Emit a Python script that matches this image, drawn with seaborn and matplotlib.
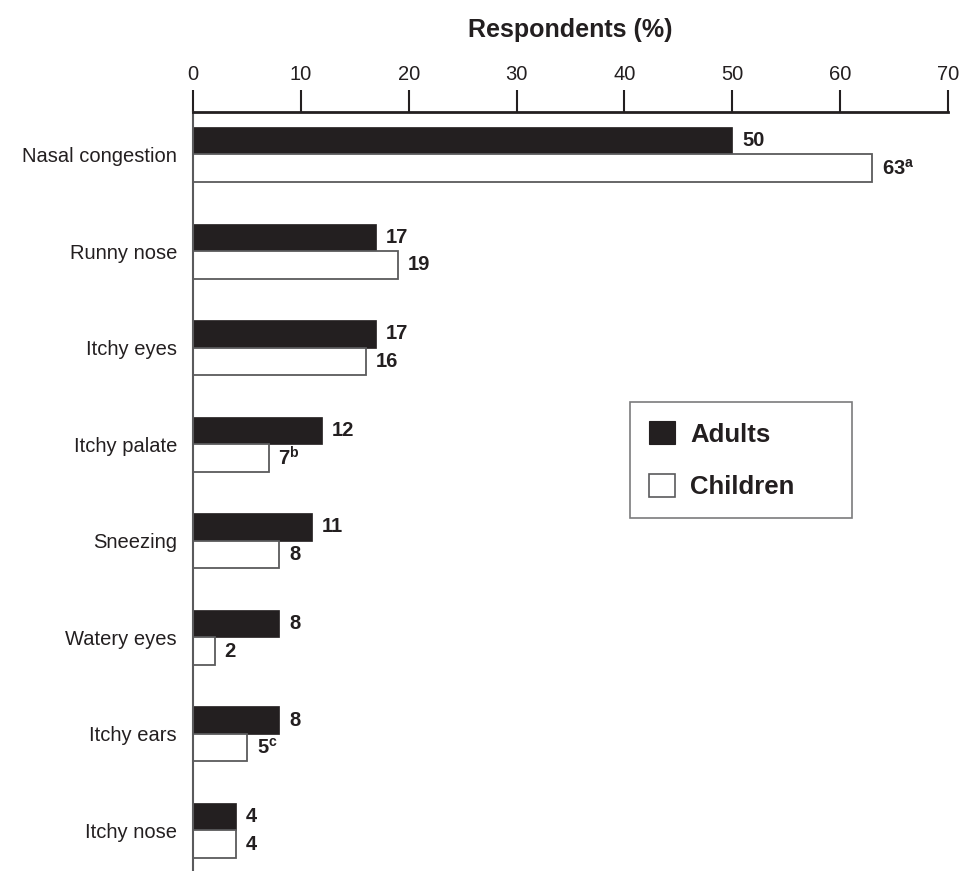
import matplotlib
matplotlib.use("Agg")
import matplotlib.pyplot as plt
from matplotlib.patches import Patch
import seaborn as sns
import pandas as pd

categories = ["Nasal congestion", "Runny nose", "Itchy eyes", "Itchy palate",
              "Sneezing", "Watery eyes", "Itchy ears", "Itchy nose"]
adults = [50, 17, 17, 12, 11, 8, 8, 4]
children = [63, 19, 16, 7, 8, 2, 5, 4]
children_notes = ["a", "", "", "b", "", "", "c", ""]
groups = ["Adults", "Children"]
xticks = [0, 10, 20, 30, 40, 50, 60, 70]

sns.set_style("ticks")
plt.rcParams["font.family"] = ["Liberation Sans", "DejaVu Sans"]
plt.rcParams["mathtext.fontset"] = "custom"
plt.rcParams["mathtext.rm"] = "Liberation Sans"
plt.rcParams["mathtext.bf"] = "Liberation Sans:bold"

DARK = "#231f20"
GREY = "#5a5a5c"

df = pd.DataFrame({
    "Symptom": categories * 2,
    "Value": adults + children,
    "Group": [groups[0]] * len(categories) + [groups[1]] * len(categories),
})

fig = plt.figure(figsize=(9.59, 8.71), dpi=100)
ax = fig.add_axes([193 / 959, 0.0, (948 - 193) / 959, 1 - 112 / 871])

sns.barplot(data=df, y="Symptom", x="Value", hue="Group", order=categories,
            hue_order=groups, orient="h", dodge=True, width=0.57,
            palette={groups[0]: DARK, groups[1]: "white"}, errorbar=None,
            legend=False, ax=ax)

cont_adults, cont_children = ax.containers[0], ax.containers[1]
for p in cont_adults.patches:
    p.set_facecolor(DARK)
    p.set_edgecolor(DARK)
    p.set_linewidth(0.5)
for p in cont_children.patches:
    p.set_facecolor("white")
    p.set_edgecolor(GREY)
    p.set_linewidth(1.3)

ax.bar_label(cont_adults, labels=[str(v) for v in adults], padding=7,
             fontsize=14.5, fontweight="bold", color=DARK)
child_labels = [f"{v}$^{{\\mathbf{{{n}}}}}$" if n else str(v)
                for v, n in zip(children, children_notes)]
ax.bar_label(cont_children, labels=child_labels, padding=7,
             fontsize=14.5, fontweight="bold", color=DARK)

ax.set_xlim(0, 70)
ax.set_ylim(7.42, -0.44)
ax.set_xticks(xticks)
ax.set_xticklabels([str(t) for t in xticks])
ax.xaxis.tick_top()
ax.xaxis.set_label_position("top")
ax.tick_params(axis="x", direction="out", length=15.5, width=1.5, color=DARK,
               labelsize=14.5, labelcolor=DARK, pad=5)
ax.tick_params(axis="y", length=0, labelsize=14.5, labelcolor=DARK, pad=11.5)
ax.set_xlabel("Respondents (%)", fontsize=18, fontweight="bold", color=DARK,
              labelpad=20)
ax.set_ylabel("")

for s in ["right", "bottom"]:
    ax.spines[s].set_visible(False)
ax.spines["top"].set_linewidth(2.0)
ax.spines["top"].set_color(DARK)
ax.spines["left"].set_linewidth(1.5)
ax.spines["left"].set_color(GREY)

handles = [Patch(facecolor=DARK, edgecolor=DARK, linewidth=0.8),
           Patch(facecolor="white", edgecolor=GREY, linewidth=1.2)]
leg = fig.legend(handles, groups, loc="upper left",
                 bbox_to_anchor=(630 / 959, 1 - 402 / 871, (852 - 630) / 959, 0.0),
                 mode="expand", borderaxespad=0, frameon=True, fancybox=False,
                 prop={"size": 18.5, "weight": "bold"}, handlelength=1.0,
                 handleheight=1.0, handletextpad=0.6, labelspacing=1.05,
                 borderpad=0.75)
leg.get_frame().set_edgecolor(GREY)
leg.get_frame().set_linewidth(1.2)
for t in leg.get_texts():
    t.set_color(DARK)

fig.savefig("out.png", dpi=100)
